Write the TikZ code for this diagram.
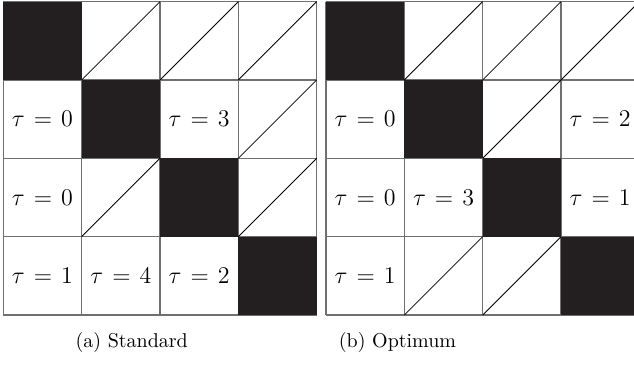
\documentclass[tikz,border=0pt]{standalone}
\usepackage{tikz}
\usetikzlibrary{positioning}
\definecolor{CellBlack}{HTML}{231F20}
\definecolor{GridGray}{HTML}{707070}
\newcommand{\cellsz}{78.35}

\begin{document}
\begin{tikzpicture}[
    x=0.5pt, y=0.5pt,
    % Styles
    cellline/.style={draw=GridGray, line width=0.6pt},
    diagline/.style={draw=black, line width=0.4pt},
    blockcell/.style={fill=CellBlack},
    taulabel/.style={font=\fontsize{13}{15}\selectfont, inner sep=0pt,
        execute at begin node={\thickmuskip=6.8mu\relax}},
    subcaption/.style={anchor=base, inner sep=0pt, font=\normalsize}
]
    \clip (0,0) rectangle (634,367);

    % 1. STANDARD ORDER
    \begin{scope}[shift={(3.3,52)}]
        \foreach \k in {0,...,4} {
            \draw[cellline] (\k*\cellsz,0) -- (\k*\cellsz,4*\cellsz);
            \draw[cellline] (0,\k*\cellsz) -- (4*\cellsz,\k*\cellsz);
        }
        % split cells (column/row, row 0 on top)
        \foreach \c/\r in {1/0,2/0,3/0,3/1,1/2,3/2}
            \draw[diagline] (\c*\cellsz,{(3-\r)*\cellsz}) -- ++(\cellsz,\cellsz);
        % diagonal blocks
        \foreach \d in {0,...,3}
            \fill[blockcell] (\d*\cellsz,{(3-\d)*\cellsz}) rectangle ++(\cellsz,\cellsz);
        \node[taulabel] (sa10) at (0.5*\cellsz,2.5*\cellsz) {$\tau=0$};
        \node[taulabel] (sa12) at (2.5*\cellsz,2.5*\cellsz) {$\tau=3$};
        \node[taulabel] (sa20) at (0.5*\cellsz,1.5*\cellsz) {$\tau=0$};
        \node[taulabel] (sa30) at (0.5*\cellsz,0.5*\cellsz) {$\tau=1$};
        \node[taulabel] (sa31) at (1.5*\cellsz,0.5*\cellsz) {$\tau=4$};
        \node[taulabel] (sa32) at (2.5*\cellsz,0.5*\cellsz) {$\tau=2$};
    \end{scope}

    % 2. OPTIMUM ORDER
    \begin{scope}[shift={(326,52)}]
        \foreach \k in {0,...,4} {
            \draw[cellline] (\k*\cellsz,0) -- (\k*\cellsz,4*\cellsz);
            \draw[cellline] (0,\k*\cellsz) -- (4*\cellsz,\k*\cellsz);
        }
        \foreach \c/\r in {1/0,2/0,3/0,2/1,1/3,2/3}
            \draw[diagline] (\c*\cellsz,{(3-\r)*\cellsz}) -- ++(\cellsz,\cellsz);
        \foreach \d in {0,...,3}
            \fill[blockcell] (\d*\cellsz,{(3-\d)*\cellsz}) rectangle ++(\cellsz,\cellsz);
        \node[taulabel] (ob10) at (0.5*\cellsz,2.5*\cellsz) {$\tau=0$};
        \node[taulabel] (ob13) at (3.5*\cellsz,2.5*\cellsz) {$\tau=2$};
        \node[taulabel] (ob20) at (0.5*\cellsz,1.5*\cellsz) {$\tau=0$};
        \node[taulabel] (ob21) at (1.5*\cellsz,1.5*\cellsz) {$\tau=3$};
        \node[taulabel] (ob23) at (3.5*\cellsz,1.5*\cellsz) {$\tau=1$};
        \node[taulabel] (ob30) at (0.5*\cellsz,0.5*\cellsz) {$\tau=1$};
    \end{scope}

    % 3. CAPTIONS
    \node[subcaption] (capa) at (131.7,19) {(a) Standard};
    \node[subcaption] (capb) at (397.5,19) {(b) Optimum};

\end{tikzpicture}
\end{document}
